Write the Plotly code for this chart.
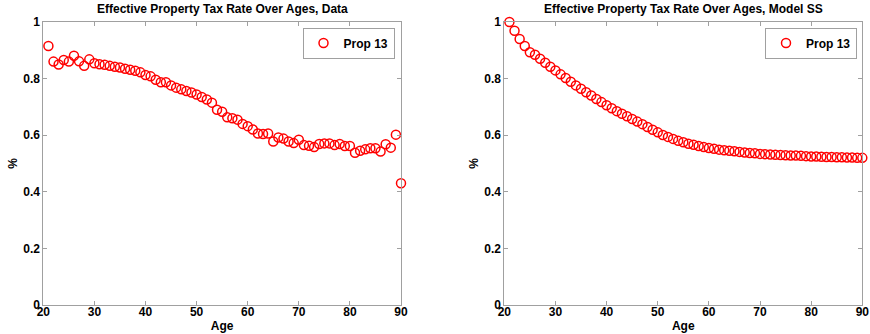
import plotly.graph_objects as go

ages = list(range(21, 91))

data_rate = [
    0.915, 0.860, 0.850, 0.866, 0.860, 0.881, 0.861, 0.845, 0.868, 0.854,
    0.851, 0.849, 0.845, 0.842, 0.839, 0.835, 0.831, 0.828, 0.822, 0.813,
    0.808, 0.796, 0.787, 0.787, 0.776, 0.768, 0.762, 0.756, 0.751, 0.744,
    0.735, 0.726, 0.715, 0.690, 0.683, 0.663, 0.660, 0.655, 0.640, 0.632,
    0.620, 0.606, 0.604, 0.606, 0.578, 0.592, 0.588, 0.578, 0.572, 0.584,
    0.565, 0.563, 0.558, 0.569, 0.571, 0.571, 0.565, 0.569, 0.562, 0.562,
    0.538, 0.545, 0.550, 0.554, 0.554, 0.542, 0.568, 0.556, 0.602, 0.430,
]

model_rate = [
    1.000, 0.969, 0.940, 0.915, 0.893, 0.884, 0.870, 0.856, 0.842, 0.829,
    0.815, 0.802, 0.789, 0.776, 0.764, 0.752, 0.740, 0.728, 0.717, 0.706,
    0.695, 0.685, 0.676, 0.667, 0.657, 0.648, 0.639, 0.629, 0.619, 0.610,
    0.601, 0.594, 0.587, 0.580, 0.575, 0.570, 0.566, 0.562, 0.558, 0.555,
    0.552, 0.549, 0.547, 0.545, 0.543, 0.541, 0.539, 0.537, 0.536, 0.534,
    0.533, 0.532, 0.531, 0.530, 0.529, 0.528, 0.528, 0.527, 0.526, 0.525,
    0.525, 0.524, 0.523, 0.523, 0.522, 0.522, 0.521, 0.521, 0.520, 0.520,
]

titles = ["Effective Property Tax Rate Over Ages, Data",
          "Effective Property Tax Rate Over Ages, Model SS"]
series_name = "Prop 13"
x_ticks = [20, 30, 40, 50, 60, 70, 80, 90]
y_ticks = [0, 0.2, 0.4, 0.6, 0.8, 1]
y_ticktext = ["0", "0.2", "0.4", "0.6", "0.8", "1"]

FONT = "Liberation Sans, Arial, sans-serif"
AX = "#a0a0a0"
RED = "#ff0000"

fig = go.Figure()

marker = dict(symbol="circle-open", size=9, color=RED, line=dict(color=RED, width=1.5))

fig.add_trace(go.Scatter(x=ages, y=data_rate, mode="markers", name=series_name,
                         marker=marker, xaxis="x", yaxis="y", legend="legend",
                         cliponaxis=False))
fig.add_trace(go.Scatter(x=ages, y=model_rate, mode="markers", name=series_name,
                         marker=marker, xaxis="x2", yaxis="y2", legend="legend2",
                         cliponaxis=False))

W, H = 870, 334
dom1 = [43.3 / W, 401.0 / W]
dom2 = [504.3 / W, 862.3 / W]
ydom = [(H - 305.0) / H, (H - 22.0) / H]

def xaxis(domain, anchor):
    return dict(domain=domain, anchor=anchor, range=[20, 90], tickvals=x_ticks,
                ticks="inside", ticklen=4, tickcolor=AX, showline=True, linecolor=AX,
                linewidth=1, mirror="ticks", showgrid=False, zeroline=False,
                automargin=False,
                ticklabelstandoff=-4, ticklabeloverflow="allow",
                tickfont=dict(family=FONT, size=12, color="black", weight="bold"),
                title=dict(text="Age", font=dict(family=FONT, size=12, color="black", weight="bold"),
                           standoff=3))

def yaxis(anchor):
    return dict(domain=ydom, anchor=anchor, range=[0, 1], tickvals=y_ticks,
                ticktext=y_ticktext,
                ticks="inside", ticklen=4, tickcolor=AX, showline=True, linecolor=AX,
                linewidth=1, mirror="ticks", showgrid=False, zeroline=False,
                automargin=False, ticklabeloverflow="allow",
                tickfont=dict(family=FONT, size=12, color="black", weight="bold"),
                title=dict(text="%", font=dict(family=FONT, size=12, color="black", weight="bold"),
                           standoff=3))

legend_common = dict(bgcolor="white", bordercolor=AX, borderwidth=1,
                     font=dict(family=FONT, size=12, color="black", weight="bold"),
                     xanchor="right", yanchor="top", itemwidth=30,
                     tracegroupgap=0)

fig.update_layout(
    width=W, height=H,
    margin=dict(l=0, r=0, t=0, b=0, autoexpand=False),
    paper_bgcolor="white", plot_bgcolor="white",
    showlegend=True,
    xaxis=xaxis(dom1, "y"), yaxis=yaxis("x"),
    xaxis2=xaxis(dom2, "y2"), yaxis2=yaxis("x2"),
    legend=dict(x=394.5 / W, y=(H - 27.5) / H, **legend_common),
    legend2=dict(x=857.0 / W, y=(H - 27.5) / H, **legend_common),
    annotations=[
        dict(text=titles[0], x=(dom1[0] + dom1[1]) / 2, y=(H - 9.0) / H,
             xref="paper", yref="paper", showarrow=False, xanchor="center", yanchor="middle",
             font=dict(family=FONT, size=12, color="black", weight="bold")),
        dict(text=titles[1], x=(dom2[0] + dom2[1]) / 2, y=(H - 9.0) / H,
             xref="paper", yref="paper", showarrow=False, xanchor="center", yanchor="middle",
             font=dict(family=FONT, size=12, color="black", weight="bold")),
    ],
)

fig.write_html("out.html",
               config={"displayModeBar": False},
               post_script="document.body.style.margin='0';document.body.style.overflow='hidden';")
